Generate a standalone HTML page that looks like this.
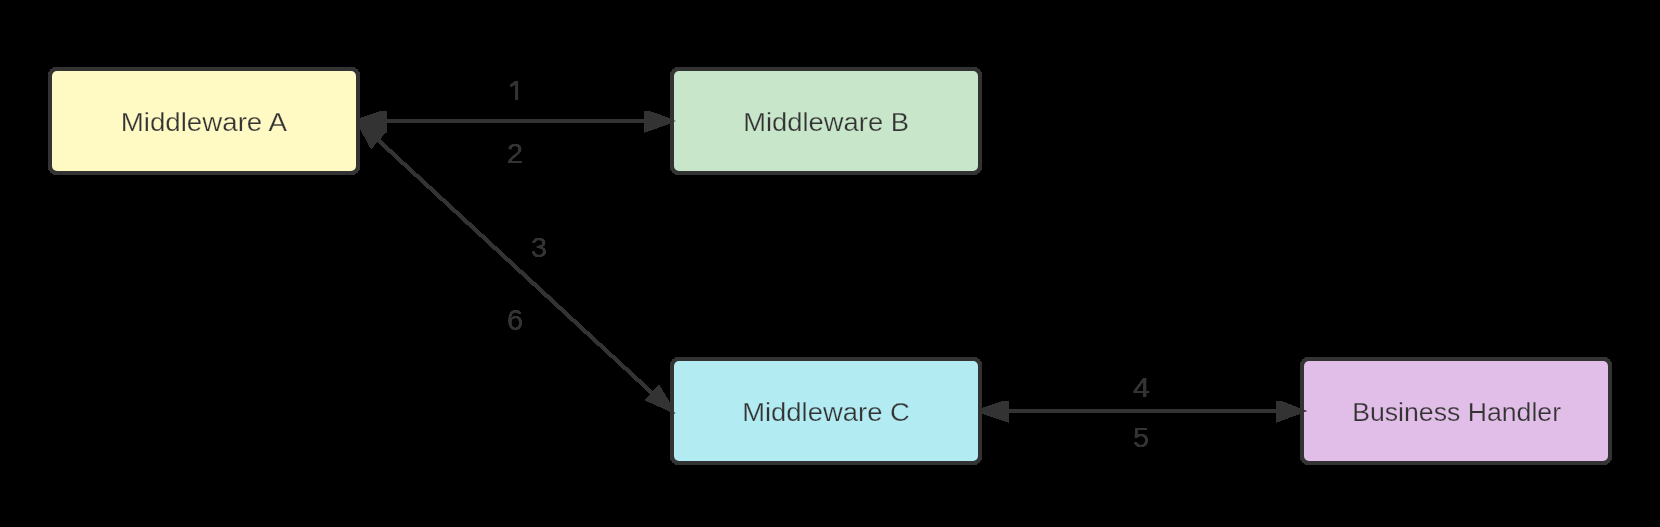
<!DOCTYPE html>
<html><head><meta charset="utf-8">
<style>
html,body{margin:0;padding:0;background:#000;width:1660px;height:527px;overflow:hidden}
svg{display:block;will-change:transform}
text{font-family:"Liberation Sans", sans-serif;fill:#333333}
</style></head>
<body>
<svg width="1660" height="527" viewBox="0 0 1660 527">
<rect x="0" y="0" width="1660" height="527" fill="#000"/>
<g fill="#333333" shape-rendering="crispEdges">
  <rect x="358" y="119" width="314" height="4"/>
  <rect x="980" y="409" width="322" height="4"/>
</g>
<g stroke="#333333" stroke-width="4.25" fill="none" shape-rendering="crispEdges">
  <line x1="358" y1="121.45" x2="672" y2="411.45"/>
</g>
<g fill="#333333" stroke="none" shape-rendering="crispEdges">
  <polygon points="387,111 380,111 351,121 387,133"/>
  <polygon points="644,111 650,111 677.5,121 644,133"/>
  <polygon points="1009,401 1002,401 973,411 1009,423"/>
  <polygon points="1276,401 1282,401 1307.5,411.2 1276,422.8"/>
  <polygon points="353.2,116.6 386.5,132 371,149.3"/>
  <polygon points="677.8,415.3 644.4,400.21 659.05,384.34"/>
</g>
<g>
  <rect x="48" y="67" width="312" height="108" rx="8" ry="8" fill="#333333" shape-rendering="crispEdges"/>
  <rect x="52" y="71" width="304" height="100" rx="5" ry="5" fill="#FFF9C4"/>
  <rect x="670" y="67" width="312" height="108" rx="8" ry="8" fill="#333333" shape-rendering="crispEdges"/>
  <rect x="674" y="71" width="304" height="100" rx="5" ry="5" fill="#C8E6C9"/>
  <rect x="670" y="357" width="312" height="108" rx="8" ry="8" fill="#333333" shape-rendering="crispEdges"/>
  <rect x="674" y="361" width="304" height="100" rx="5" ry="5" fill="#B2EBF2"/>
  <rect x="1300" y="357" width="312" height="108" rx="8" ry="8" fill="#333333" shape-rendering="crispEdges"/>
  <rect x="1304" y="361" width="304" height="100" rx="5" ry="5" fill="#E1BEE7"/>
</g>
<g fill="#333333">
  <polygon points="1303.5,409.8 1307.5,411 1303.5,412.2"/>
  <polygon points="673.5,120.3 676,121 673.5,121.7"/>
  <polygon points="673.5,411.9 675.8,413 673.5,413.9"/>
</g>
<g font-size="26" stroke-width="0.25">
  <text stroke="#FFF9C4" x="203.8" y="131" text-anchor="middle" textLength="166.1" lengthAdjust="spacingAndGlyphs">Middleware A</text>
  <text stroke="#C8E6C9" x="826.1" y="131" text-anchor="middle" textLength="165.7" lengthAdjust="spacingAndGlyphs">Middleware B</text>
  <text stroke="#B2EBF2" x="826" y="421" text-anchor="middle" textLength="167.7" lengthAdjust="spacingAndGlyphs">Middleware C</text>
  <text stroke="#E1BEE7" x="1456.6" y="421" text-anchor="middle" textLength="208.9" lengthAdjust="spacingAndGlyphs">Business Handler</text>
</g>
<defs><filter id="th" x="-20%" y="-20%" width="140%" height="140%" color-interpolation-filters="sRGB"><feComponentTransfer><feFuncA type="linear" slope="2.5" intercept="0"/></feComponentTransfer></filter></defs>
<g font-size="27.5" filter="url(#th)">
  <text x="515" y="163" text-anchor="middle" textLength="16" lengthAdjust="spacingAndGlyphs">2</text>
  <text x="539" y="257" text-anchor="middle" textLength="16" lengthAdjust="spacingAndGlyphs">3</text>
  <text x="515" y="329.8" font-size="29.5" text-anchor="middle" textLength="16" lengthAdjust="spacingAndGlyphs">6</text>
  <text x="1141.5" y="397" text-anchor="middle" textLength="17" lengthAdjust="spacingAndGlyphs">4</text>
  <text x="1141" y="447" text-anchor="middle" textLength="16" lengthAdjust="spacingAndGlyphs">5</text>
</g>
<path d="M515 81 L518.1 81 L518.1 100 L515.1 100 L515.1 84.8 L510.6 87.6 L510 84.4 Z" fill="#333333"/>
</svg>
</body></html>
